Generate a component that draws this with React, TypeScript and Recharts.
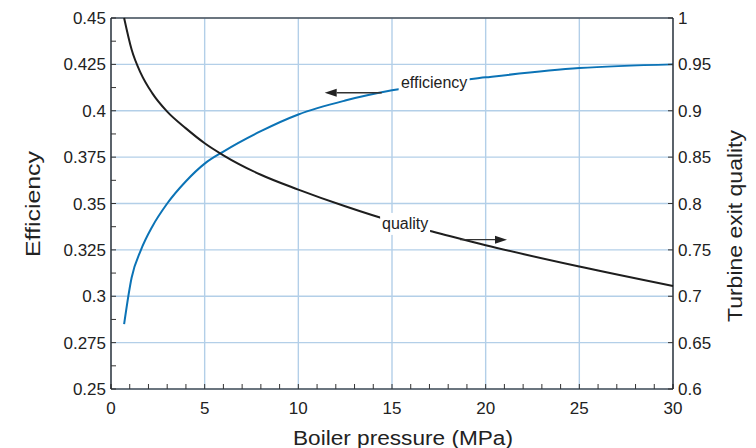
import React from 'react'
import { LineChart, Line, XAxis, YAxis, CartesianGrid, ReferenceDot } from 'recharts'

// boiler pressure (MPa) and the two curves
const pressure = [0.7, 1.1, 1.6, 2.2, 3, 4, 5, 6, 8, 10, 12.5, 15, 17.5, 20, 25, 30]
const efficiency = [0.285, 0.31, 0.325, 0.3375, 0.35, 0.362, 0.3715, 0.378, 0.389, 0.398, 0.4055, 0.411, 0.415, 0.418, 0.423, 0.425]
const quality = [1.0, 0.966, 0.94, 0.919, 0.899, 0.881, 0.865, 0.852, 0.831, 0.815, 0.797, 0.781, 0.768, 0.755, 0.732, 0.711]

const xMinorTicks = Array.from({ length: 31 }, (_, i) => i)
const xMajorTicks = [0, 5, 10, 15, 20, 25, 30]
const leftTicks = [0.25, 0.2625, 0.275, 0.2875, 0.3, 0.3125, 0.325, 0.3375, 0.35, 0.3625, 0.375, 0.3875, 0.4, 0.4125, 0.425, 0.4375, 0.45]
const leftLabels = ['0.25', '', '0.275', '', '0.3', '', '0.325', '', '0.35', '', '0.375', '', '0.4', '', '0.425', '', '0.45']
const rightTicks = [0.6, 0.65, 0.7, 0.75, 0.8, 0.85, 0.9, 0.95, 1]
const rightLabels = ['0.6', '0.65', '0.7', '0.75', '0.8', '0.85', '0.9', '0.95', '1']

// annotation anchors (data units)
const effLabelAt = { x: 17.25, y: 0.4148 }
const effArrowAt = { x: 14.45, y: 0.4097 }
const qualLabelAt = { x: 15.7, y: 0.778 }
const qualArrowAt = { x: 18.63, y: 0.761 }

const data = pressure.map((p, i) => ({ p, eff: efficiency[i], qual: quality[i] }))

const FONT = '"Liberation Sans", Arial, Helvetica, sans-serif'
const BLUE = '#0b73b6'
const DARK = '#1e1e1e'
const GRID = '#b3cfe8'

function BottomTick(props: any) {
  const { x, y, payload } = props
  if (payload.value % 5 !== 0) return <g />
  return (
    <text x={x} y={y} dy="0.71em" textAnchor="middle" fontSize={17} fill="#222" fontFamily={FONT}>
      {payload.value}
    </text>
  )
}

function LeftTick(props: any) {
  const { x, y, index } = props
  const label = leftLabels[index]
  if (!label) return <g />
  return (
    <text x={x} y={y} dy="0.36em" textAnchor="end" fontSize={17} fill="#222" fontFamily={FONT}>
      {label}
    </text>
  )
}

function RightTick(props: any) {
  const { x, y, index } = props
  return (
    <text x={x} y={y} dy="0.36em" textAnchor="start" fontSize={17} fill="#222" fontFamily={FONT}>
      {rightLabels[index]}
    </text>
  )
}

function Tag({ cx, cy, text, w }: any) {
  return (
    <g>
      <rect x={cx - w / 2} y={cy - 11} width={w} height={22} fill="#fff" />
      <text x={cx} y={cy} dy="0.3em" textAnchor="middle" fontSize={16} fill="#222" fontFamily={FONT}>
        {text}
      </text>
    </g>
  )
}

function Arrow({ cx, cy, len, dir }: any) {
  const tip = cx + dir * len
  const base = tip - dir * 12
  return (
    <g>
      <line x1={cx} y1={cy} x2={base} y2={cy} stroke="#333" strokeWidth={1.3} />
      <path d={`M${tip},${cy} L${base},${cy - 4} L${base},${cy + 4} Z`} fill="#222" />
    </g>
  )
}

export default function App() {
  return (
    <div style={{ position: 'absolute', left: 0, top: 0, background: '#fff' }}>
      <LineChart width={756} height={448} data={data} margin={{ top: 0, right: 0, bottom: 0, left: 0 }} style={{ fontFamily: FONT }}>
        <CartesianGrid
          xAxisId="bottom"
          yAxisId="right"
          stroke={GRID}
          strokeWidth={1.4}
          verticalValues={xMajorTicks}
          horizontalValues={rightTicks}
        />
        <XAxis
          xAxisId="bottom"
          dataKey="p"
          type="number"
          domain={[0, 30]}
          ticks={xMinorTicks}
          interval={0}
          height={59}
          tickSize={-5}
          tickMargin={18}
          tick={<BottomTick />}
          axisLine={{ stroke: '#111', strokeWidth: 1.2 }}
          tickLine={{ stroke: '#333' }}
          label={() => (
            <text x={403} y={438} dy="0.36em" textAnchor="middle" fontSize={20} fill="#222" fontFamily={FONT} textLength={220} lengthAdjust="spacingAndGlyphs">
              Boiler pressure (MPa)
            </text>
          )}
        />
        <XAxis
          xAxisId="top"
          orientation="top"
          dataKey="p"
          type="number"
          domain={[0, 30]}
          ticks={xMinorTicks}
          interval={0}
          height={18}
          tickSize={-5}
          tick={false}
          axisLine={{ stroke: '#111', strokeWidth: 1.2 }}
          tickLine={{ stroke: '#333' }}
        />
        <YAxis
          yAxisId="left"
          type="number"
          domain={[0.25, 0.45]}
          ticks={leftTicks}
          interval={0}
          width={111}
          tickSize={-5}
          tickMargin={10}
          tick={<LeftTick />}
          axisLine={{ stroke: '#111', strokeWidth: 1.2 }}
          tickLine={{ stroke: '#333' }}
          label={() => (
            <text x={33} y={204} dy="0.36em" textAnchor="middle" fontSize={20} fill="#222" fontFamily={FONT} transform="rotate(-90 33 204)" textLength={106} lengthAdjust="spacingAndGlyphs">
              Efficiency
            </text>
          )}
        />
        <YAxis
          yAxisId="right"
          orientation="right"
          type="number"
          domain={[0.6, 1]}
          ticks={rightTicks}
          interval={0}
          width={83}
          tickSize={-5}
          tickMargin={10}
          tick={<RightTick />}
          axisLine={{ stroke: '#111', strokeWidth: 1.2 }}
          tickLine={{ stroke: '#333' }}
          label={() => (
            <text x={735} y={226} dy="0.36em" textAnchor="middle" fontSize={20} fill="#222" fontFamily={FONT} transform="rotate(-90 735 226)" textLength={192} lengthAdjust="spacingAndGlyphs">
              Turbine exit quality
            </text>
          )}
        />
        <Line xAxisId="bottom" yAxisId="left" dataKey="eff" type="monotone" stroke={BLUE} strokeWidth={2} dot={false} isAnimationActive={false} />
        <Line xAxisId="bottom" yAxisId="right" dataKey="qual" type="monotone" stroke={DARK} strokeWidth={2} dot={false} isAnimationActive={false} />
        <ReferenceDot xAxisId="bottom" yAxisId="left" x={effLabelAt.x} y={effLabelAt.y} r={0} zIndex={1500}
          shape={(p: any) => <Tag cx={p.cx} cy={p.cy} text="efficiency" w={71} />} />
        <ReferenceDot xAxisId="bottom" yAxisId="left" x={effArrowAt.x} y={effArrowAt.y} r={0} zIndex={1500}
          shape={(p: any) => <Arrow cx={p.cx} cy={p.cy} len={57} dir={-1} />} />
        <ReferenceDot xAxisId="bottom" yAxisId="right" x={qualLabelAt.x} y={qualLabelAt.y} r={0} zIndex={1500}
          shape={(p: any) => <Tag cx={p.cx} cy={p.cy} text="quality" w={50} />} />
        <ReferenceDot xAxisId="bottom" yAxisId="right" x={qualArrowAt.x} y={qualArrowAt.y} r={0} zIndex={1500}
          shape={(p: any) => <Arrow cx={p.cx} cy={p.cy} len={47} dir={1} />} />
      </LineChart>
    </div>
  )
}
